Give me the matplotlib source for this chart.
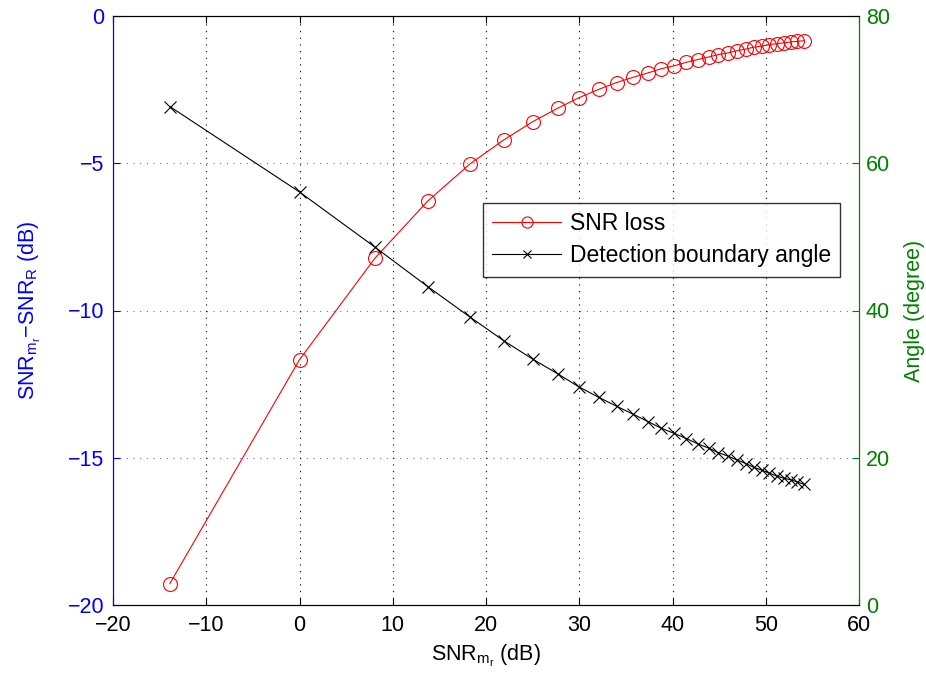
import numpy as np
from matplotlib import pyplot as plt

plt.rcParams['font.family'] = ['Liberation Sans', 'DejaVu Sans']
plt.rcParams['mathtext.fontset'] = 'custom'
plt.rcParams['mathtext.rm'] = 'Liberation Sans'
plt.rcParams['mathtext.it'] = 'Liberation Sans'

# SNR_mr (dB)
snr_mr = [-13.9, 0.0, 8.1, 13.8, 18.3, 21.9, 25.0, 27.7, 30.0, 32.1,
          34.0, 35.8, 37.4, 38.8, 40.2, 41.5, 42.7, 43.9, 44.9, 46.0,
          46.9, 47.9, 48.7, 49.6, 50.4, 51.2, 52.0, 52.7, 53.4, 54.1]
# SNR loss (dB), left axis
snr_loss = [-19.27, -11.67, -8.22, -6.27, -5.02, -4.21, -3.59, -3.13, -2.77, -2.49,
            -2.26, -2.08, -1.93, -1.79, -1.69, -1.57, -1.48, -1.39, -1.31, -1.25,
            -1.18, -1.12, -1.06, -1.02, -0.97, -0.94, -0.91, -0.88, -0.86, -0.84]
# detection boundary angle (degree), right axis
angle = [67.7, 56.1, 48.6, 43.2, 39.1, 35.9, 33.4, 31.4, 29.6, 28.2,
         27.0, 25.9, 24.9, 24.0, 23.3, 22.6, 21.9, 21.3, 20.7, 20.2,
         19.7, 19.2, 18.7, 18.3, 17.9, 17.5, 17.2, 17.0, 16.7, 16.4]

fig = plt.figure(figsize=(9.26, 6.86), dpi=100)
ax1 = fig.add_axes([113 / 926, 1 - 605 / 686, (859 - 113) / 926, (605 - 16) / 686])
ax2 = ax1.twinx()

fs = 15.5
l1, = ax1.plot(snr_mr, snr_loss, color='red', lw=0.8, marker='o', ms=10,
               mfc='none', mec='red', mew=0.8, label='SNR loss')
l2, = ax2.plot(snr_mr, angle, color='black', lw=0.8, marker='x', ms=8,
               mew=0.8, label='Detection boundary angle')

ax1.set_xlim(-20, 60)
ax1.set_ylim(-20, 0)
ax2.set_ylim(0, 80)
ax1.set_xticks(range(-20, 61, 10))
ax1.set_yticks(range(-20, 1, 5))
ax2.set_yticks(range(0, 81, 20))

# grid: vertical black dotted, horizontal blue dotted
for x in range(-10, 60, 10):
    ax1.axvline(x, color='black', ls=(0, (1, 5)), lw=0.8, zorder=0)
for y in range(-15, 0, 5):
    ax1.axhline(y, color='blue', ls=(0, (1, 5)), lw=0.8, alpha=0.6, zorder=0)

ax1.tick_params(axis='x', direction='in', top=True, labelsize=fs, length=5,
                pad=7, colors='black')
ax1.tick_params(axis='y', direction='in', labelsize=fs, length=5, pad=6, colors='blue')
ax2.tick_params(axis='y', direction='in', labelsize=fs, length=5, pad=5, colors='green')
ax1.spines['left'].set_color('blue')
ax2.spines['left'].set_color('blue')
ax2.spines['right'].set_color('green')
ax1.spines['right'].set_color('green')
for ax in (ax1, ax2):
    for s in ax.spines.values():
        s.set_linewidth(0.8)

ax1.set_xlabel(r'SNR$_{\mathrm{m_r}}$ (dB)', fontsize=fs, labelpad=5)
ax1.set_ylabel(r'SNR$_{\mathrm{m_r}}$$-$SNR$_{\mathrm{R}}$ (dB)', fontsize=fs,
               color='blue', labelpad=18)
ax2.set_ylabel('Angle (degree)', fontsize=fs, color='green', labelpad=10)

leg = ax2.legend([l1, l2], ['SNR loss', 'Detection boundary angle'],
                 loc='upper left', bbox_to_anchor=((483 - 113) / 746, 1 - (203 - 16) / 589),
                 fontsize=16.5, frameon=True, fancybox=False, edgecolor='black',
                 borderaxespad=0, handlelength=3.0, handletextpad=0.4,
                 borderpad=0.4, labelspacing=0.4, markerscale=0.8)
leg.get_frame().set_linewidth(1.0)

fig.savefig('out.png', dpi=100)
